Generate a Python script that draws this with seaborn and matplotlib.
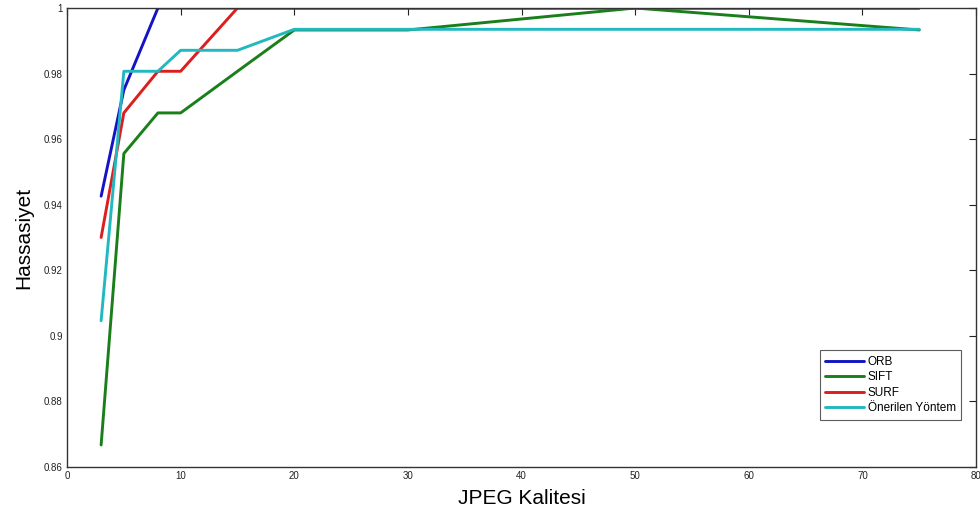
import numpy as np
import pandas as pd
import matplotlib
matplotlib.use("Agg")
import matplotlib.pyplot as plt
import seaborn as sns

# JPEG kalite seviyeleri
kalite = [3, 5, 8, 10, 15, 20, 30, 50, 75]

orb = [0.9426, 0.975, 1.0, 1.0, 1.0, 1.0, 1.0, 1.0, 1.0]
sift = [0.8667, 0.9556, 0.968, 0.968, 0.9807, 0.9933, 0.9933, 1.0, 0.9933]
surf = [0.930, 0.968, 0.9807, 0.9807, 1.0, 1.0, 1.0, 1.0, 1.0]
onerilen = [0.9046, 0.9807, 0.9807, 0.9871, 0.9871, 0.9935, 0.9935, 0.9935, 0.9935]

yontemler = ["ORB", "SIFT", "SURF", "Önerilen Yöntem"]
renkler = {"ORB": "#1414c4", "SIFT": "#1a7f1a", "SURF": "#dc1e1e", "Önerilen Yöntem": "#22b8c0"}

df = pd.DataFrame({
    "JPEG Kalitesi": kalite * 4,
    "Hassasiyet": orb + sift + surf + onerilen,
    "Yontem": sum([[y] * len(kalite) for y in yontemler], []),
})

sns.set_style("white")
plt.rcParams["font.family"] = ["Liberation Sans", "DejaVu Sans"]

fig = plt.figure(figsize=(9.8, 5.2), dpi=100)
ax = fig.add_axes([0.0684, 0.102, 0.9276, 0.8826])

sns.lineplot(data=df, x="JPEG Kalitesi", y="Hassasiyet", hue="Yontem",
             hue_order=yontemler, palette=renkler, linewidth=2.1, ax=ax)

ax.set_xlim(0, 80)
ax.set_ylim(0.86, 1.0)
ax.set_xticks(np.arange(0, 81, 10))
ax.set_yticks(np.arange(0.86, 1.001, 0.02))
ax.set_yticklabels(["0.86", "0.88", "0.9", "0.92", "0.94", "0.96", "0.98", "1"])
ax.tick_params(direction="in", length=5, width=0.8, labelsize=7, colors="#222222",
               top=True, right=True, pad=3)
for s in ax.spines.values():
    s.set_color("#333333")
    s.set_linewidth(1.0)

ax.set_xlabel("JPEG Kalitesi", fontsize=15, labelpad=6, color="black")
ax.set_ylabel("Hassasiyet", fontsize=15, labelpad=8, color="black")

leg = ax.legend(loc="lower right", bbox_to_anchor=(0.9835, 0.103), fontsize=8.5,
                frameon=True, fancybox=False, handlelength=3.3, borderpad=0.45,
                labelspacing=0.3, handletextpad=0.3, borderaxespad=0.0)
leg.get_frame().set_edgecolor("#333333")
leg.get_frame().set_linewidth(0.8)
for t in leg.get_texts():
    t.set_color("black")

fig.savefig("out.png", dpi=100)
